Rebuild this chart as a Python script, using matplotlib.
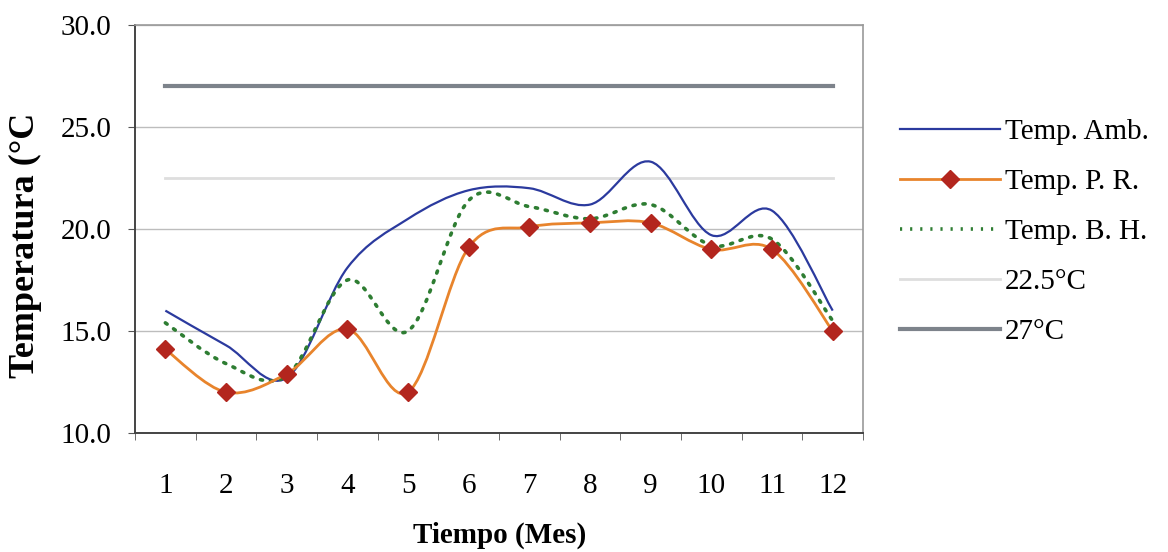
import numpy as np
import matplotlib.pyplot as plt
from matplotlib.path import Path
from matplotlib.patches import PathPatch
from matplotlib.lines import Line2D

meses = [1, 2, 3, 4, 5, 6, 7, 8, 9, 10, 11, 12]
temp_amb = [16.0, 14.3, 12.7, 18.1, 20.5, 21.9, 22.0, 21.2, 23.3, 19.7, 20.9, 16.0]
temp_pr = [14.1, 12.0, 12.9, 15.1, 12.0, 19.1, 20.1, 20.3, 20.3, 19.0, 19.0, 15.0]
temp_bh = [15.4, 13.4, 12.8, 17.5, 15.0, 21.4, 21.1, 20.5, 21.2, 19.2, 19.5, 15.5]
limite_bajo = 22.5
limite_alto = 27.0

plt.rcParams['font.family'] = ['Liberation Serif', 'DejaVu Serif']


def curva_suave(x, y):
    # trazo suavizado tipo Excel: bezier cubica con tangentes (P[i+1]-P[i-1])/6
    x = np.asarray(x, float)
    y = np.asarray(y, float)
    n = len(x)
    verts = [(x[0], y[0])]
    codes = [Path.MOVETO]
    for i in range(n - 1):
        i0 = max(i - 1, 0)
        i3 = min(i + 2, n - 1)
        c1 = (x[i] + (x[i + 1] - x[i0]) / 6, y[i] + (y[i + 1] - y[i0]) / 6)
        c2 = (x[i + 1] - (x[i3] - x[i]) / 6, y[i + 1] - (y[i3] - y[i]) / 6)
        verts += [c1, c2, (x[i + 1], y[i + 1])]
        codes += [Path.CURVE4] * 3
    return Path(verts, codes)


fig = plt.figure(figsize=(11.68, 5.52), dpi=100)
ax = fig.add_axes([0.1156, 0.2156, 0.6233, 0.739])

c_amb = '#2B3A9E'
c_pr = '#E8842C'
c_marca = '#B3261E'
c_bh = '#2E7D32'
c_bajo = '#DEDEDE'
c_alto = '#7D838B'

ax.plot([meses[0], meses[-1]], [limite_alto, limite_alto], color=c_alto, lw=3, zorder=2)
ax.plot([meses[0], meses[-1]], [limite_bajo, limite_bajo], color=c_bajo, lw=2, zorder=2)

ax.add_patch(PathPatch(curva_suave(meses, temp_amb), fill=False, edgecolor=c_amb, lw=1.6, zorder=3))
ax.add_patch(PathPatch(curva_suave(meses, temp_bh), fill=False, edgecolor=c_bh, lw=2.6,
                       linestyle=(0, (0.6, 2.2)), capstyle='round', zorder=4))
ax.add_patch(PathPatch(curva_suave(meses, temp_pr), fill=False, edgecolor=c_pr, lw=2.0, zorder=5))
ax.plot(meses, temp_pr, ls='none', marker='D', ms=9, color=c_marca, zorder=6)

ax.set_xlim(0.5, 12.5)
ax.set_ylim(10, 30)
ax.set_yticks([10, 15, 20, 25, 30])
ax.set_yticklabels(['%.1f' % v for v in [10, 15, 20, 25, 30]])
ax.set_xticks(meses)
ax.set_xticks(np.arange(0.5, 13, 1), minor=True)
ax.tick_params(axis='x', which='major', length=0, pad=29, labelsize=21)
ax.tick_params(axis='x', which='minor', length=5, color='#555555')
ax.tick_params(axis='y', length=5, color='#555555', pad=12, labelsize=21)
ax.yaxis.grid(True, color='#BDBDBD', lw=1)
ax.set_axisbelow(True)

for lado in ['left', 'bottom']:
    ax.spines[lado].set_color('#444444')
    ax.spines[lado].set_linewidth(1.4)
for lado in ['top', 'right']:
    ax.spines[lado].set_color('#9A9A9A')
    ax.spines[lado].set_linewidth(1.2)

fig.text(0.428, 0.031, 'Tiempo (Mes)', ha='center', va='center', fontsize=21, fontweight='bold')
fig.text(0.022, 0.556, 'Temperatura (°C', ha='center', va='center', rotation=90,
         fontsize=26, fontweight='bold')

handles = [
    Line2D([], [], color=c_amb, lw=1.6),
    Line2D([], [], color=c_pr, lw=2.0, marker='D', ms=9, mfc=c_marca, mec=c_marca),
    Line2D([], [], color=c_bh, lw=2.6, ls=(0, (0.6, 2.2))),
    Line2D([], [], color=c_bajo, lw=2),
    Line2D([], [], color=c_alto, lw=3),
]
nombres = ['Temp. Amb.', 'Temp. P. R.', 'Temp. B. H.', '22.5°C', '27°C']
fig.legend(handles, nombres, loc='center left', bbox_to_anchor=(0.748, 0.58), frameon=False,
           fontsize=21, handlelength=3.42, handletextpad=0.17, labelspacing=0.81)

fig.savefig('out.png', dpi=100)
